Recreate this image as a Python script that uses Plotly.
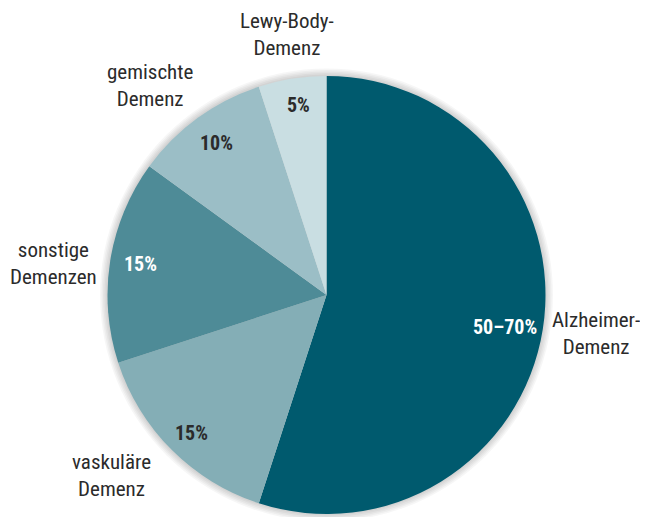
import math
import plotly.graph_objects as go

# Data
labels = ["Alzheimer-<br>Demenz", "vaskuläre<br>Demenz", "sonstige<br>Demenzen", "gemischte<br>Demenz", "Lewy-Body-<br>Demenz"]
values = [55, 15, 15, 10, 5]
value_text = ["50–70%", "15%", "15%", "10%", "5%"]
colors = ["#005a6e", "#84aeb6", "#4e8b97", "#9bbec6", "#c9dee2"]
text_colors = ["#ffffff", "#2b2b2b", "#ffffff", "#2b2b2b", "#2b2b2b"]

# Label placement styles (relative to pie: radius factor, angle shift in degrees, anchors)
inner_r = [0.828, 0.88, 0.863, 0.858, 0.877]
inner_shift = [1.2, -0.7, 0.4, 0.0, 0.5]
outer_r = [1.036, 1.143, 1.049, 1.131, 1.203]
outer_shift = [0.8, -1.1, -1.0, 3.95, 0.4]
outer_xanchor = ["left", "right", "right", "right", "center"]

W, H = 648, 517
OFF = 8  # page body margin
x0, x1, y0, y1 = 107 - OFF, 546 - OFF, 76 - OFF, 514 - OFF
cx, cy = (x0 + x1) / 2, (y0 + y1) / 2
R = min(x1 - x0, y1 - y0) / 2
FONT = "Roboto Condensed, DejaVu Sans Condensed, sans-serif"

fig = go.Figure()
fig.add_trace(go.Pie(
    labels=labels, values=values, sort=False, direction="clockwise", rotation=0,
    marker=dict(colors=colors, line=dict(width=0)),
    textinfo="none", hoverinfo="label+text", text=value_text,
    domain=dict(x=[x0 / W, x1 / W], y=[1 - y1 / H, 1 - y0 / H]),
    showlegend=False,
))

# soft glow/shadow around pie
shapes = []
for i in range(5):
    rr = R + 1.5 * (i + 1)
    shapes.append(dict(type="circle", xref="paper", yref="paper", layer="below",
                       x0=(cx - rr) / W, x1=(cx + rr) / W,
                       y0=1 - (cy + rr) / H, y1=1 - (cy - rr) / H,
                       fillcolor="rgba(0,0,0,0.035)", line=dict(width=0)))

annotations = []
total = sum(values)
cum = 0
for k, (lab, v, vt, tc) in enumerate(zip(labels, values, value_text, text_colors)):
    mid = (cum + v / 2) / total * 2 * math.pi
    cum += v
    ai = mid + math.radians(inner_shift[k])
    ri = inner_r[k] * R
    annotations.append(dict(x=(cx + ri * math.sin(ai)) / W, y=1 - (cy - ri * math.cos(ai)) / H,
                            xref="paper", yref="paper", xanchor="center", yanchor="middle",
                            text=f"<b>{vt}</b>", showarrow=False,
                            font=dict(family=FONT, size=20, color=tc)))
    ao = mid + math.radians(outer_shift[k])
    ro = outer_r[k] * R
    annotations.append(dict(x=(cx + ro * math.sin(ao)) / W, y=1 - (cy - ro * math.cos(ao)) / H,
                            xref="paper", yref="paper", xanchor=outer_xanchor[k], yanchor="middle",
                            text=lab, showarrow=False, align="center",
                            font=dict(family=FONT, size=21, color="#2b2b2b")))

fig.update_layout(width=W, height=H, margin=dict(l=0, r=0, t=0, b=0),
                  paper_bgcolor="white", plot_bgcolor="white",
                  shapes=shapes, annotations=annotations)
fig.write_html("out.html")
